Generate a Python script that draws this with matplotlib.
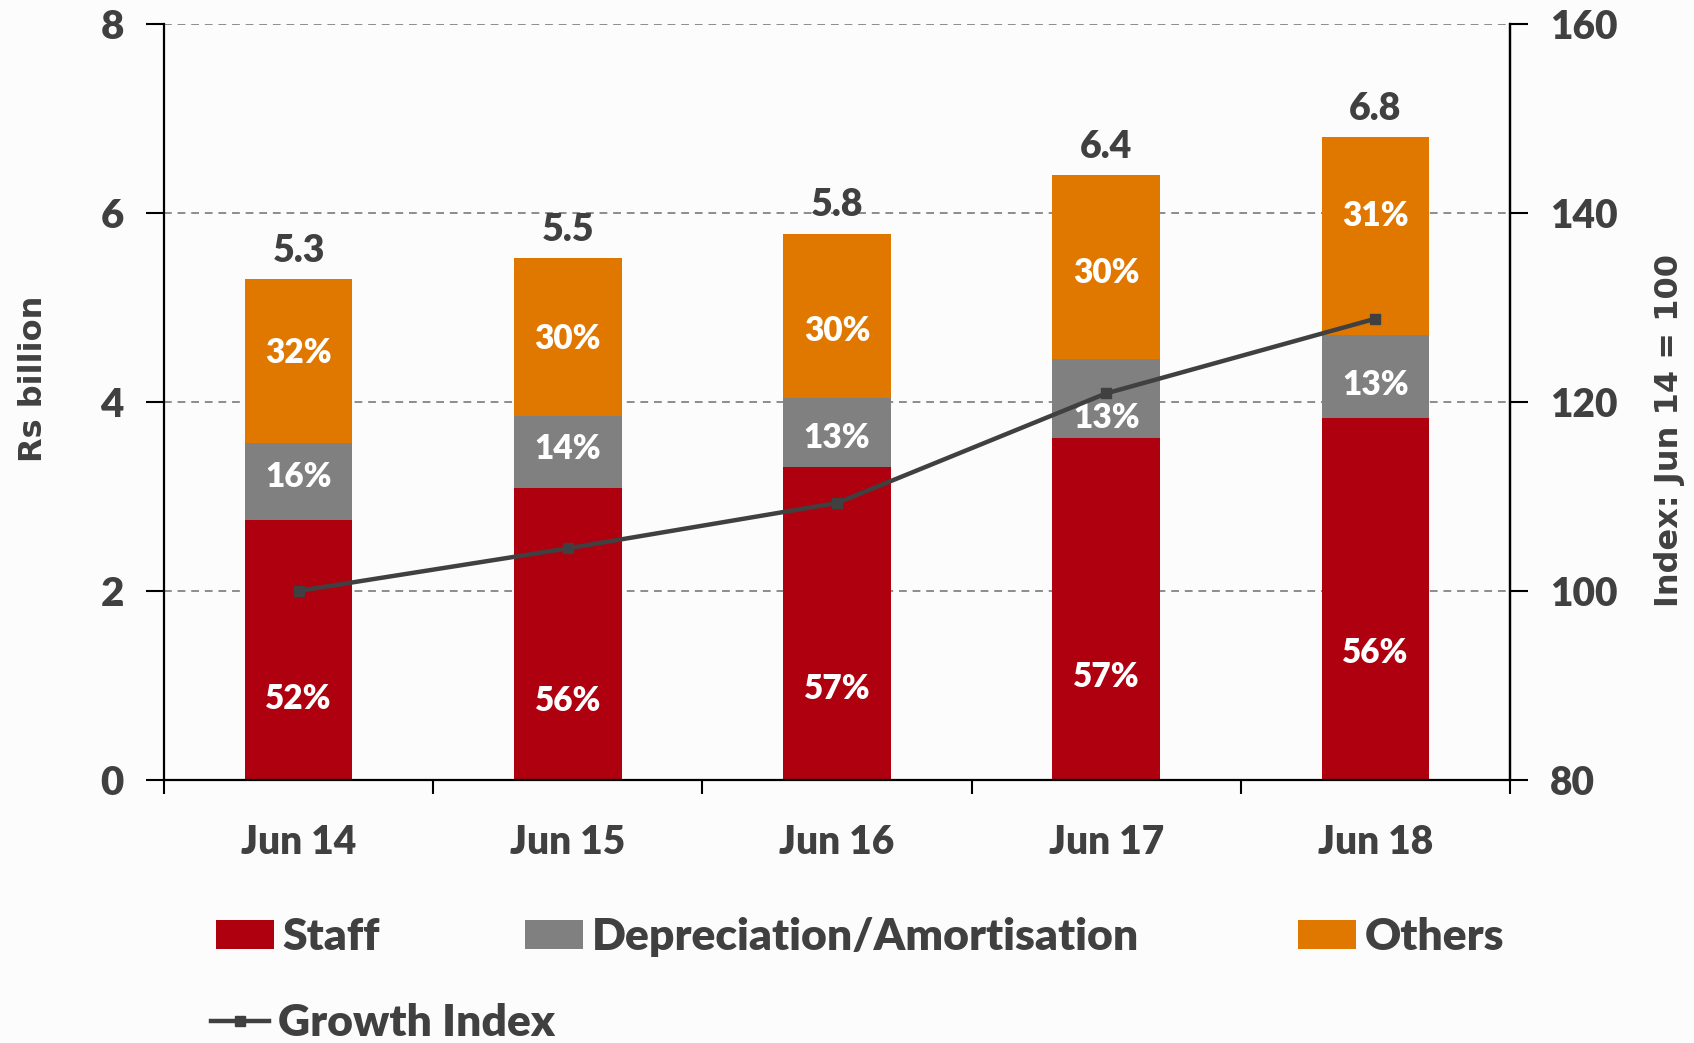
import matplotlib
matplotlib.use("Agg")
import matplotlib.pyplot as plt
import numpy as np

# ---- data ----
categories = ["Jun 14", "Jun 15", "Jun 16", "Jun 17", "Jun 18"]
staff = [2.75, 3.09, 3.31, 3.62, 3.83]
depreciation = [0.82, 0.76, 0.73, 0.83, 0.88]
others = [1.73, 1.67, 1.74, 1.95, 2.09]
staff_pct = ["52%", "56%", "57%", "57%", "56%"]
dep_pct = ["16%", "14%", "13%", "13%", "13%"]
others_pct = ["32%", "30%", "30%", "30%", "31%"]
growth_index = [100, 104.5, 109.3, 120.9, 128.8]
left_ticks = [0, 2, 4, 6, 8]
right_ticks = [80, 100, 120, 140, 160]

# ---- layout: where each percentage label sits inside its segment (fraction of segment height) ----
staff_label_frac = [0.31, 0.27, 0.29, 0.30, 0.35]
dep_label_frac = [0.55, 0.54, 0.42, 0.25, 0.39]
others_label_frac = [0.55, 0.49, 0.41, 0.47, 0.60]

# ---- style ----
plt.rcParams['font.family'] = ['Lato', 'DejaVu Sans']
TXT = '#404040'
C_STAFF = '#AE000F'
C_DEP = '#808080'
C_OTH = '#E07800'
FW = 'heavy'

fig = plt.figure(figsize=(16.94, 10.43), dpi=100, facecolor='#fcfcfc')
ax = fig.add_axes([0.0968, 0.2522, 0.7946, 0.7250])
ax.set_facecolor('none')

x = np.arange(len(categories))
staff_a = np.array(staff)
dep_a = np.array(depreciation)
oth_a = np.array(others)
w = 0.40

b1 = ax.bar(x, staff_a, w, color=C_STAFF, zorder=2)
b2 = ax.bar(x, dep_a, w, bottom=staff_a, color=C_DEP, zorder=2)
b3 = ax.bar(x, oth_a, w, bottom=staff_a + dep_a, color=C_OTH, zorder=2)

totals = staff_a + dep_a + oth_a
for i in range(len(x)):
    ax.text(x[i], staff_a[i] * staff_label_frac[i], staff_pct[i], ha='center', va='center',
            color='white', fontsize=24, fontweight=FW, zorder=3)
    ax.text(x[i], staff_a[i] + dep_a[i] * dep_label_frac[i], dep_pct[i], ha='center', va='center',
            color='white', fontsize=24, fontweight=FW, zorder=3)
    ax.text(x[i], staff_a[i] + dep_a[i] + oth_a[i] * others_label_frac[i], others_pct[i],
            ha='center', va='center', color='white', fontsize=24, fontweight=FW, zorder=3)
    ax.text(x[i], totals[i] + 0.12, f"{totals[i]:.1f}", ha='center', va='bottom',
            color=TXT, fontsize=27, fontweight=FW, zorder=3)

ax.set_xlim(-0.5, len(x) - 0.5)
ax.set_ylim(0, 8)
ax.set_yticks(left_ticks)
ax.set_yticklabels([str(t) for t in left_ticks], fontweight=FW)
ax.grid(axis='y', linestyle=(0, (4, 3)), color='#8c8c8c', linewidth=1.4, zorder=0)
ax.set_axisbelow(True)

ax.set_xticks(np.arange(-0.5, len(x), 1))
ax.set_xticklabels([])
ax.set_xticks(x, minor=True)
ax.set_xticklabels(categories, minor=True, fontweight=FW)
ax.tick_params(axis='x', which='major', direction='out', length=10, width=1.5, color='black')
ax.tick_params(axis='x', which='minor', length=0, pad=32, labelsize=28, labelcolor=TXT)
ax.tick_params(axis='y', direction='out', length=13, width=1.5, pad=16, labelsize=29, labelcolor=TXT)

ax.spines['top'].set_visible(False)
for s in ['left', 'bottom', 'right']:
    ax.spines[s].set_linewidth(1.6)
    ax.spines[s].set_color('black')

ax.set_ylabel('Rs billion', fontsize=23, fontweight='bold', color=TXT,
              family='DejaVu Sans', labelpad=37)
ax.yaxis.label.set_y(0.531)

ax2 = ax.twinx()
ax2.set_ylim(80, 160)
ax2.set_yticks(right_ticks)
ax2.set_yticklabels([str(t) for t in right_ticks], fontweight=FW)
ax2.tick_params(axis='y', direction='out', length=13, width=1.5, pad=16, labelsize=28, labelcolor=TXT)
for s in ['top', 'left', 'bottom']:
    ax2.spines[s].set_visible(False)
ax2.spines['right'].set_linewidth(1.6)
line, = ax2.plot(x, growth_index, color='#404040', linewidth=3.2, marker='s',
                 markersize=7.5, zorder=4)
ax2.set_ylabel('Index: Jun 14 = 100', fontsize=23, fontweight='bold', color=TXT,
               family='DejaVu Sans', labelpad=26)
ax2.yaxis.label.set_y(0.462)

leg_kw = dict(frameon=False, prop={'size': 32, 'weight': FW}, handlelength=1.3,
              handleheight=0.6, handletextpad=0.2, borderpad=0, borderaxespad=0)
leg1 = fig.legend([b1, b2], ['Staff', 'Depreciation/Amortisation'],
                  ncol=2, loc='center left', bbox_to_anchor=(0.1275, 0.1014),
                  columnspacing=3.26, **leg_kw)
leg3 = fig.legend([b3], ['Others'], loc='center left',
                  bbox_to_anchor=(0.7662, 0.1014), **leg_kw)
leg2 = fig.legend([line], ['Growth Index'], loc='center left',
                  bbox_to_anchor=(0.1245, 0.019), **leg_kw)
for lg in (leg1, leg2, leg3):
    for t in lg.get_texts():
        t.set_color(TXT)

fig.savefig('out.png', dpi=100, facecolor=fig.get_facecolor())
